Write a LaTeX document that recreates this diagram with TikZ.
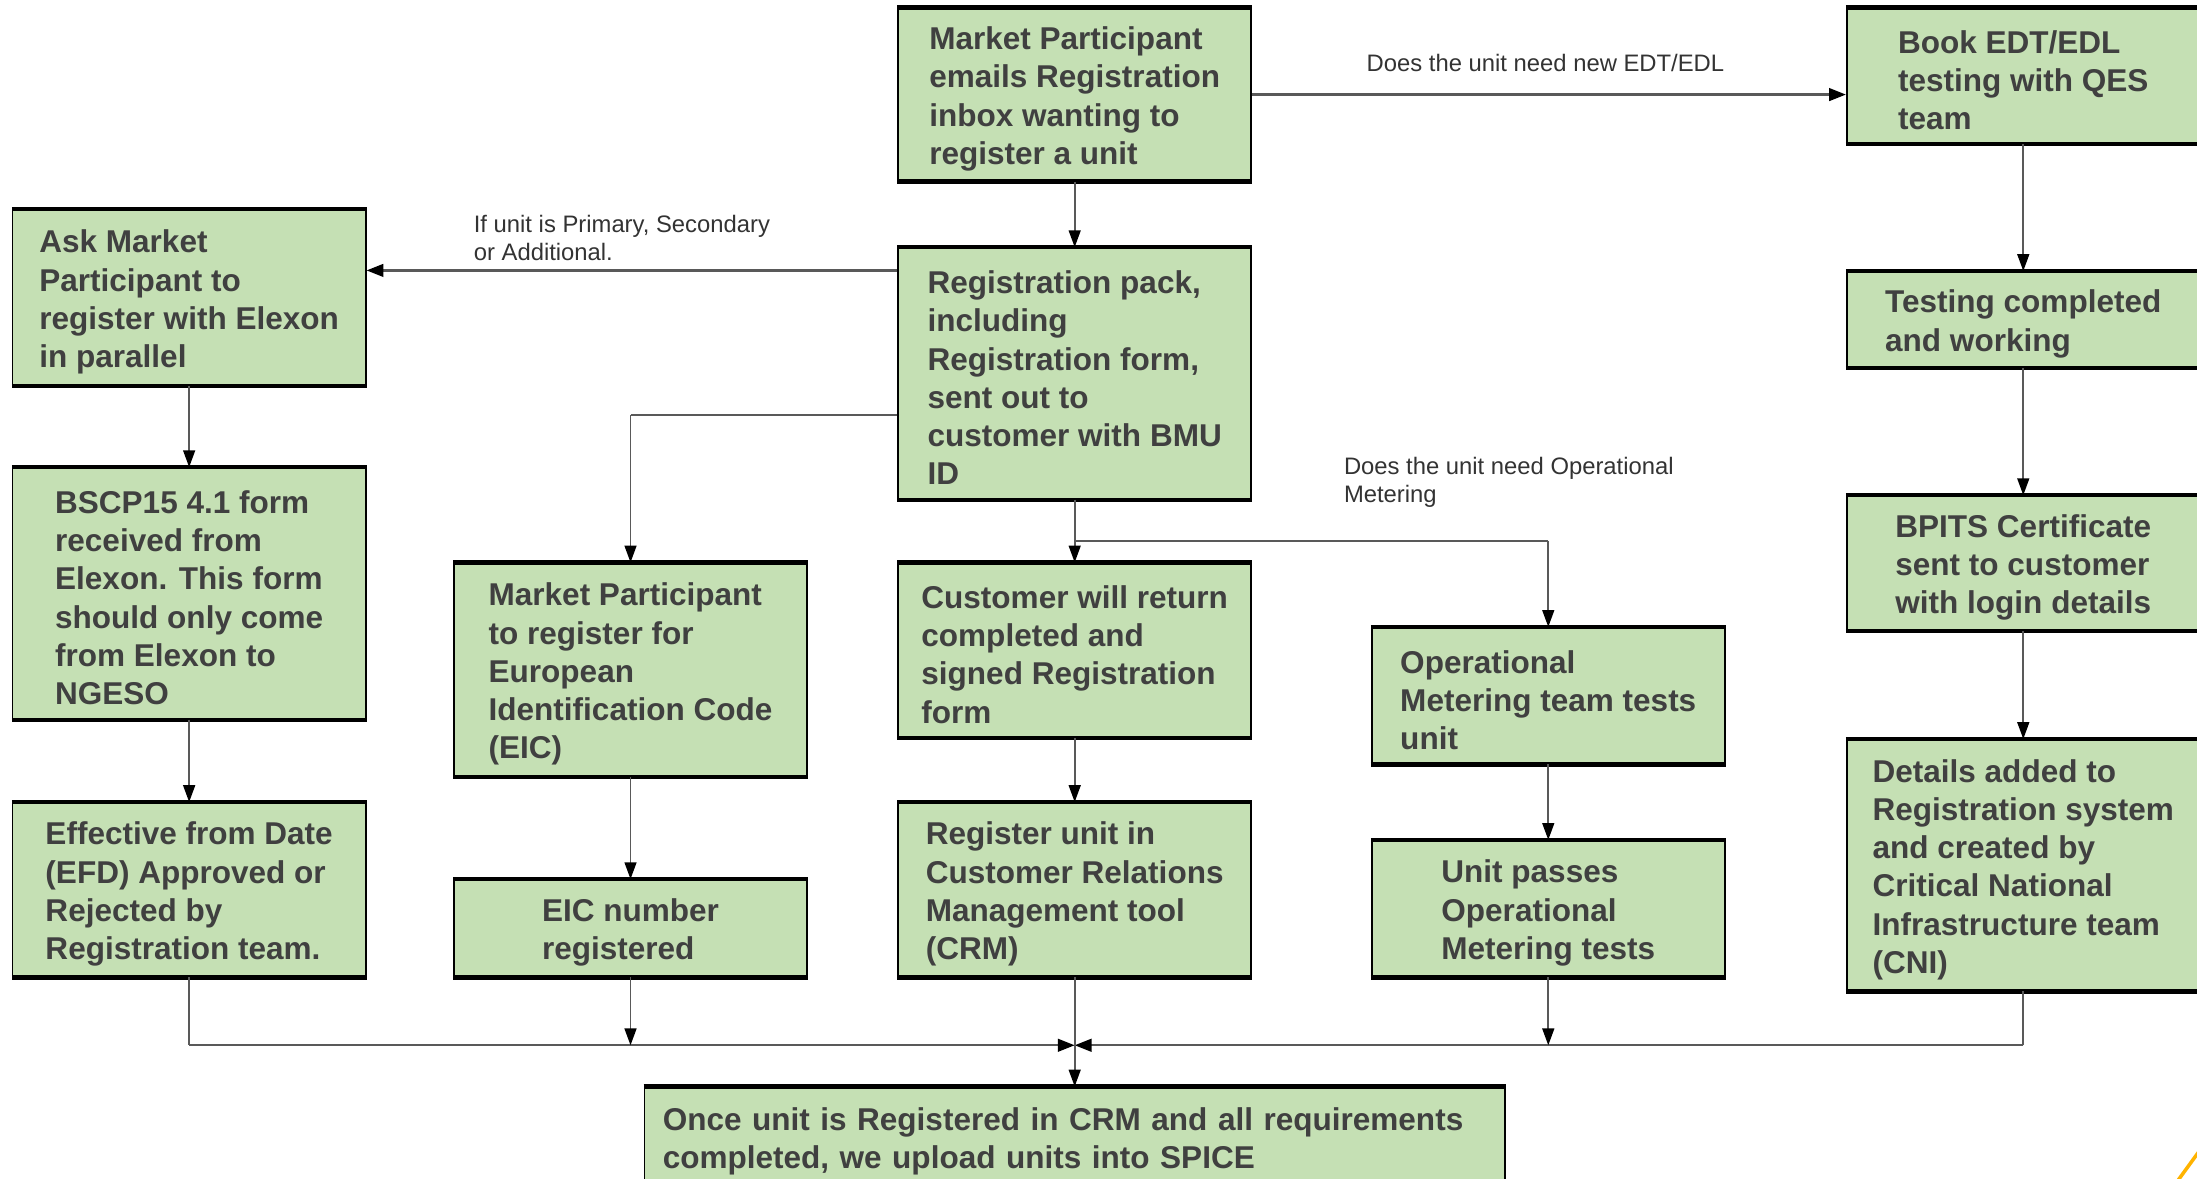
\documentclass[tikz,border=0pt]{standalone}
\usepackage{fontspec}
\setmainfont{Liberation Sans}
\usetikzlibrary{arrows.meta,calc}
\definecolor{boxfill}{HTML}{C5E0B4}
\definecolor{txt}{HTML}{404040}
\definecolor{conn}{HTML}{595959}
\definecolor{labtxt}{HTML}{333333}
\definecolor{accent}{HTML}{FFB300}
\newcommand{\fstrut}{\rule{0pt}{22.5pt}}
\begin{document}
\begin{tikzpicture}[x=1pt,y=-1pt,
  box/.style={rectangle, fill=boxfill, draw=black, line width=1.2pt, align=left,
    font=\fontsize{22.5}{27.3}\selectfont\bfseries, text=txt,
    minimum width=252pt, inner sep=0pt},
  lab/.style={font=\fontsize{17}{20}\selectfont, text=labtxt, align=left, inner sep=0pt},
  conn/.style={draw=conn, line width=1.2pt},
  hconn/.style={draw=conn, line width=1.7pt},
  arr/.style={conn, -{Triangle[length=12pt,width=8.5pt,color=black]}},
  harr/.style={hconn, -{Triangle[length=12pt,width=9pt,color=black]}}]
\clip (0,0) rectangle (1568,841);
\fill[white] (0,0) rectangle (1568,841);

% boxes
\node[box, minimum height=123pt] (A) at (767,67.5) {\fstrut Market Participant\\emails Registration\\inbox wanting to\\register a unit};
\node[box, minimum height=96pt] (B) at (1444,54) {\fstrut Book EDT/EDL\\testing with QES\\team};
\node[box, minimum height=125pt] (C) at (135,212.5) {\fstrut Ask Market\\Participant to\\register with Elexon\\in parallel};
\node[box, minimum height=179pt] (D) at (767,266.5) {\fstrut Registration pack,\\including\\Registration form,\\sent out to\\customer with BMU\\ID};
\node[box, minimum height=68pt] (E) at (1444,228) {\fstrut Testing completed\\and working};
\node[box, minimum height=179pt] (F) at (135,423.5) {\fstrut BSCP15 4.1 form\\received from\\Elexon. This form\\should only come\\from Elexon to\\NGESO};
\node[box, minimum height=152pt] (G) at (450,478) {\fstrut Market Participant\\to register for\\European\\Identification Code\\(EIC)};
\node[box, minimum height=124pt] (H) at (767,464) {\fstrut Customer will return\\completed and\\signed Registration\\form};
\node[box, minimum height=97pt] (I) at (1105,496.5) {\fstrut Operational\\Metering team tests\\unit};
\node[box, minimum height=96pt] (J) at (1444,402) {\fstrut BPITS Certificate\\sent to customer\\with login details};
\node[box, minimum height=124pt] (K) at (135,635) {\fstrut Effective from Date\\(EFD) Approved or\\Rejected by\\Registration team.};
\node[box, minimum height=69pt] (L) at (450,662.5) {\fstrut EIC number\\registered};
\node[box, minimum height=124pt] (M) at (767,635) {\fstrut Register unit in\\Customer Relations\\Management tool\\(CRM)};
\node[box, minimum height=97pt] (N) at (1105,648.5) {\fstrut Unit passes\\Operational\\Metering tests};
\node[box, minimum height=179pt] (O) at (1444,617.5) {\fstrut Details added to\\Registration system\\and created by\\Critical National\\Infrastructure team\\(CNI)};
\node[box, minimum height=71pt, minimum width=614pt, text width=588pt] (P) at (767,811.5) {\fstrut Once unit is Registered in CRM and all requirements\\completed, we upload units into SPICE};

\foreach \n in {A,B,C,D,E,F,G,H,I,J,K,L,M,N,O,P}
  \draw[line width=3pt] (\n.north west) -- (\n.north east) (\n.south west) -- (\n.south east);

% labels
\node[lab] (l1) at (1103,45) {Does the unit need new EDT/EDL};
\node[lab, anchor=west] (l2) at (338,170) {If unit is Primary, Secondary\\or Additional.};
\node[lab, anchor=west] (l3) at (959,344) {Does the unit need Operational\\Metering};

% helper coordinates
\coordinate (y193) at (0,193);
\coordinate (y296) at (0,296);
\coordinate (y386) at (0,386);
\coordinate (yb) at (0,746);
\coordinate (jn) at (767,746);
\coordinate (gk) at (G.north |- y296);
\coordinate (ik) at (I.north |- y386);
\coordinate (kk) at (K.south |- yb);
\coordinate (ok) at (O.south |- yb);

% connectors
\draw[arr] (A.south) -- (D.north);
\draw[harr] (A.east) -- (A.east -| B.west);
\draw[harr] (D.west |- y193) -- (C.east |- y193);
\draw[hconn] (D.west |- y296) -- (gk);
\draw[arr] (gk) -- (G.north);
\draw[arr] (D.south) -- (H.north);
\draw[hconn] (D.south |- y386) -- (ik);
\draw[arr] (ik) -- (I.north);
\draw[arr] (B.south) -- (E.north);
\draw[arr] (E.south) -- (J.north);
\draw[arr] (J.south) -- (O.north);
\draw[arr] (C.south) -- (F.north);
\draw[arr] (F.south) -- (K.north);
\draw[arr] (G.south) -- (L.north);
\draw[arr] (H.south) -- (M.north);
\draw[arr] (I.south) -- (N.north);
\draw[conn] (K.south) -- (kk);
\draw[harr] (kk) -- (jn);
\draw[conn] (O.south) -- (ok);
\draw[harr] (ok) -- (jn);
\draw[arr] (L.south) -- (L.south |- yb);
\draw[arr] (N.south) -- (N.south |- yb);
\draw[arr] (M.south) -- (P.north);

% corner accent
\draw[accent, line width=2.5pt] (1554,843) -- (1570,821);
\end{tikzpicture}
\end{document}
